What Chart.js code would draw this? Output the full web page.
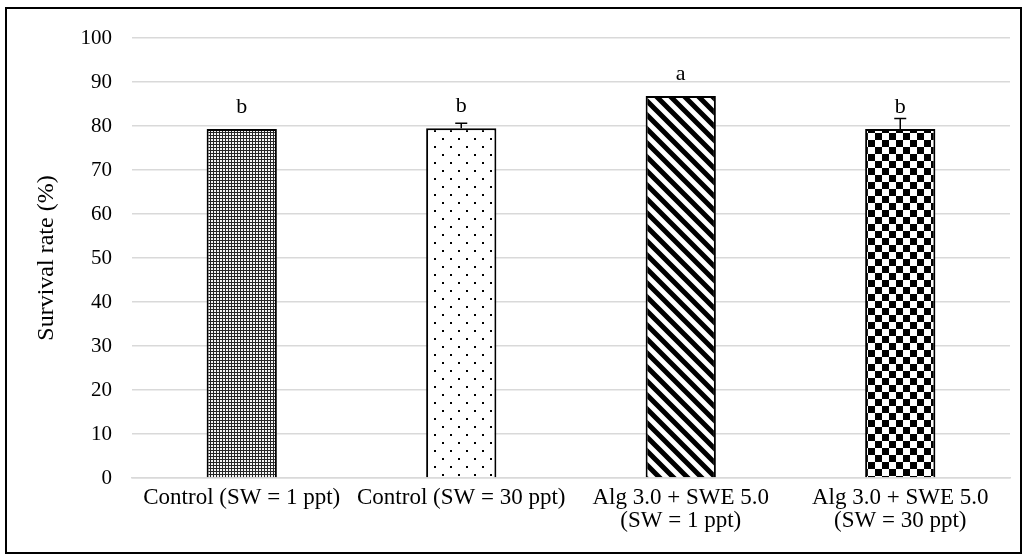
<!DOCTYPE html>
<html>
<head>
<meta charset="utf-8">
<script src="https://cdn.jsdelivr.net/npm/chart.js@4"></script>
<style>
  html, body { margin: 0; padding: 0; background: #fff; }
  #wrap { width: 1027px; height: 559px; position: relative; }
</style>
</head>
<body>
<div id="wrap"><canvas id="c" width="1027" height="559"></canvas></div>
<script>
const categories = [
  "Control (SW = 1 ppt)",
  ["Control (SW = 30 ppt)"],
  ["Alg 3.0 + SWE 5.0", "(SW = 1 ppt)"],
  ["Alg 3.0 + SWE 5.0", "(SW = 30 ppt)"]
];
const survival = [79.3, 79.5, 86.8, 79.3];
const errors = [0, 1.1, 0, 2.4];
const letters = ["b", "b", "a", "b"];
const yTicks = [0, 10, 20, 30, 40, 50, 60, 70, 80, 90, 100];

function makePattern(size, draw) {
  const c = document.createElement('canvas');
  c.width = size; c.height = size;
  const g = c.getContext('2d');
  g.fillStyle = '#fff';
  g.fillRect(0, 0, size, size);
  draw(g, size);
  return document.getElementById('c').getContext('2d').createPattern(c, 'repeat');
}

const patDense = makePattern(3, (g) => {
  g.fillStyle = '#262626'; g.fillRect(0, 0, 3, 3);
  g.fillStyle = '#f4f4f4'; g.fillRect(1, 1, 2, 2);
});
const patDots = makePattern(16, (g) => {
  g.fillStyle = '#000';
  g.fillRect(2, 2, 2, 2);
  g.fillRect(10, 10, 2, 2);
});
const patDiag = makePattern(14, (g, s) => {
  g.strokeStyle = '#000'; g.lineWidth = 5;
  g.beginPath();
  g.moveTo(-s, -s); g.lineTo(2 * s, 2 * s);
  g.moveTo(-s, 0); g.lineTo(s, 2 * s);
  g.moveTo(0, -s); g.lineTo(2 * s, s);
  g.stroke();
});
const patCheck = makePattern(14, (g) => {
  g.fillStyle = '#000';
  g.fillRect(0, 0, 7, 7);
  g.fillRect(7, 7, 7, 7);
});

const serif = "'Liberation Serif', 'DejaVu Serif', serif";

const frame = {
  id: 'frame',
  afterDraw(chart) {
    const ctx = chart.ctx;
    ctx.save();
    ctx.strokeStyle = '#000';
    ctx.lineWidth = 2;
    ctx.strokeRect(6, 8, 1015, 545);
    ctx.restore();
  }
};

const errLetters = {
  id: 'errLetters',
  afterDatasetsDraw(chart) {
    const ctx = chart.ctx;
    const meta = chart.getDatasetMeta(0);
    const y = chart.scales.y;
    ctx.save();
    meta.data.forEach((bar, i) => {
      const e = errors[i];
      if (e > 0) {
        const top = y.getPixelForValue(survival[i] + e);
        const base = y.getPixelForValue(survival[i]);
        ctx.strokeStyle = '#000';
        ctx.lineWidth = 1.5;
        ctx.beginPath();
        ctx.moveTo(bar.x, base);
        ctx.lineTo(bar.x, top);
        ctx.moveTo(bar.x - 6, top);
        ctx.lineTo(bar.x + 6, top);
        ctx.stroke();
      }
      ctx.fillStyle = '#000';
      ctx.font = "22px " + serif;
      ctx.textAlign = 'center';
      ctx.textBaseline = 'middle';
      ctx.fillText(letters[i], bar.x, y.getPixelForValue(survival[i]) - 22);
    });
    ctx.restore();
  }
};

new Chart(document.getElementById('c'), {
  type: 'bar',
  data: {
    labels: categories,
    datasets: [{
      data: survival,
      backgroundColor: [patDense, patDots, patDiag, patCheck],
      borderColor: '#000',
      borderWidth: 2,
      barPercentage: 0.64,
      categoryPercentage: 0.5
    }]
  },
  options: {
    responsive: false,
    animation: false,
    events: [],
    layout: { padding: { top: 38, right: 17, bottom: 0, left: 0 } },
    plugins: { legend: { display: false }, tooltip: { enabled: false } },
    scales: {
      x: {
        grid: { display: false, drawTicks: false },
        border: { color: '#d9d9d9', width: 1.5 },
        ticks: { color: '#000', font: { family: serif, size: 23, lineHeight: 1.0 }, padding: 8, maxRotation: 0, autoSkip: false },
        afterFit(s) { s.height = 81; }
      },
      y: {
        min: 0, max: 100,
        afterBuildTicks(s) { s.ticks = yTicks.map(v => ({ value: v })); },
        grid: { color: '#d9d9d9', lineWidth: 1.5, drawTicks: false },
        border: { display: false },
        ticks: { color: '#000', font: { family: serif, size: 21 }, padding: 20 },
        title: { display: true, text: 'Survival rate (%)', color: '#000', font: { family: serif, size: 24, lineHeight: 1.0 }, padding: { top: 35, bottom: 0 } },
        afterFit(s) { s.width = 132; }
      }
    }
  },
  plugins: [frame, errLetters]
});
</script>
</body>
</html>
